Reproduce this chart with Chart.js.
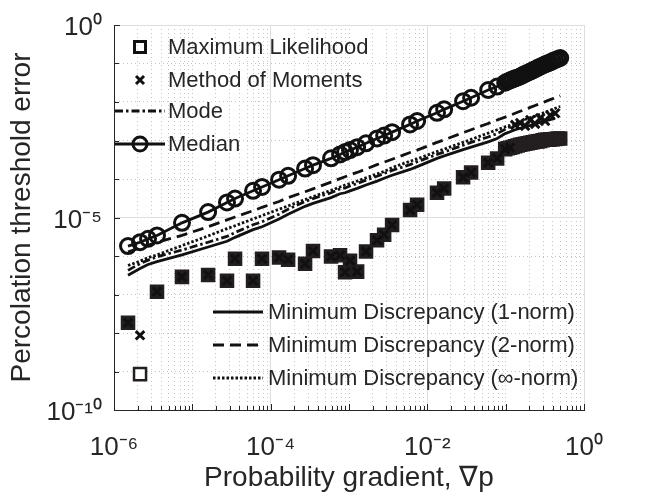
<!DOCTYPE html>
<html>
<head>
<meta charset="utf-8">
<script src="https://cdn.jsdelivr.net/npm/chart.js@4/dist/chart.umd.min.js"></script>
<style>
html,body{margin:0;padding:0;background:#fff;}
#wrap{width:657px;height:502px;position:relative;}
</style>
</head>
<body>
<div id="wrap"><canvas id="c" width="657" height="502"></canvas></div>
<script>
// ---------- data ----------
const gradient = [1.51e-6, 2.15e-6, 2.72e-6, 3.54e-6, 7.38e-6, 1.59e-5, 2.77e-5, 3.51e-5, 5.96e-5, 7.76e-5,
  1.28e-4, 1.67e-4, 2.75e-4, 3.47e-4, 5.90e-4, 7.69e-4, 8.91e-4, 1.03e-3, 1.27e-3, 1.65e-3,
  2.28e-3, 2.81e-3, 3.55e-3, 6.02e-3, 7.41e-3, 1.33e-2, 1.64e-2, 2.86e-2, 3.62e-2, 5.98e-2,
  7.78e-2, 0.0986, 0.106, 0.114, 0.1229, 0.132, 0.1423, 0.153, 0.1649, 0.177,
  0.191, 0.206, 0.2213, 0.238, 0.2563, 0.276, 0.2969, 0.319, 0.3439, 0.370,
  0.3984, 0.429, 0.4614, 0.497];

const mlErr = [1.85e-8, 8.55e-10, null, 1.18e-7, 2.87e-7, 3.23e-7, 2.28e-7, 8.49e-7, 2.28e-7, 8.49e-7,
  9.16e-7, 8.02e-7, 6.25e-7, 1.35e-6, 9.71e-7, 1.04e-6, 3.78e-7, 7.57e-7, 3.93e-7, 1.30e-6,
  2.56e-6, 3.56e-6, 6.37e-6, 1.57e-5, 2.15e-5, 4.39e-5, 5.64e-5, 1.11e-4, 1.48e-4, 2.65e-4,
  3.40e-4, 5.97e-4, 6.25e-4, 6.51e-4, 6.82e-4, 7.10e-4, 7.43e-4, 7.75e-4, 7.98e-4, 8.21e-4,
  8.45e-4, 8.70e-4, 8.95e-4, 9.22e-4, 9.49e-4, 9.77e-4, 1.01e-3, 1.04e-3, 1.05e-3, 1.07e-3,
  1.08e-3, 1.10e-3, 1.12e-3, 1.13e-3];

const momErr = [1.85e-8, 8.71e-9, null, 1.18e-7, 2.87e-7, 3.23e-7, 2.28e-7, 8.49e-7, 2.28e-7, 8.49e-7,
  9.16e-7, 8.02e-7, 6.25e-7, 1.35e-6, 9.71e-7, 1.04e-6, 3.78e-7, 7.57e-7, 3.93e-7, 1.30e-6,
  2.56e-6, 3.56e-6, 6.37e-6, 1.57e-5, 2.15e-5, 4.39e-5, 5.64e-5, 1.11e-4, 1.48e-4, 2.65e-4,
  3.40e-4, 5.97e-4, null, 6.51e-4, null, 2.55e-3, null, 2.86e-3, null, 2.40e-3,
  null, 3.40e-3, null, 2.70e-3, null, 3.82e-3, null, 3.21e-3, null, 4.54e-3,
  null, 5.10e-3, null, null];

const modeErr = [4.24e-7, 6.37e-7, 7.8e-7, 9.55e-7, 1.43e-6, 2.28e-6, 3.23e-6, 4.07e-6, 6.47e-6, 7.71e-6,
  1.22e-5, 1.64e-5, 2.60e-5, 3.10e-5, 4.39e-5, 5.54e-5, 5.86e-5, 6.59e-5, 7.62e-5, 9.33e-5,
  1.18e-4, 1.40e-4, 1.67e-4, 2.36e-4, 2.81e-4, 4.34e-4, 5.01e-4, 7.53e-4, 8.95e-4, 1.23e-3,
  1.51e-3, 1.96e-3, null, 2.27e-3, null, 2.55e-3, null, 2.86e-3, null, 2.40e-3,
  null, 3.40e-3, null, 2.70e-3, null, 3.82e-3, null, 3.21e-3, null, 4.54e-3,
  null, 5.10e-3, null, null];

const medianErr = [1.81e-6, 2.28e-6, 2.79e-6, 3.42e-6, 7.27e-6, 1.38e-5, 2.46e-5, 3.10e-5, 4.93e-5, 6.21e-5,
  9.59e-5, 1.21e-4, 1.87e-4, 2.29e-4, 3.44e-4, 4.34e-4, 5.01e-4, 5.63e-4, 6.70e-4, 8.45e-4,
  1.13e-3, 1.34e-3, 1.65e-3, 2.62e-3, 3.21e-3, 5.25e-3, 6.44e-3, 1.05e-2, 1.29e-2, 2.05e-2,
  2.52e-2, 3.17e-2, 3.42e-2, 3.66e-2, 3.88e-2, 4.12e-2, 4.36e-2, 4.63e-2, 4.99e-2, 5.35e-2,
  5.77e-2, 6.18e-2, 6.67e-2, 7.14e-2, 7.71e-2, 8.26e-2, 8.91e-2, 9.55e-2, 0.101, 0.107,
  0.116, 0.124, 0.131, 0.139];

const md1Err = [3.17e-7, 4.76e-7, 6.0e-7, 7.15e-7, 1.07e-6, 1.71e-6, 2.42e-6, 3.05e-6, 4.84e-6, 5.76e-6,
  9.17e-6, 1.22e-5, 1.95e-5, 2.32e-5, 3.28e-5, 4.14e-5, 4.39e-5, 4.93e-5, 5.70e-5, 6.98e-5,
  8.81e-5, 1.05e-4, 1.25e-4, 1.77e-4, 2.10e-4, 3.44e-4, 3.97e-4, 5.79e-4, 6.70e-4, 9.22e-4,
  1.13e-3, 1.51e-3, null, 1.69e-3, null, 1.90e-3, null, 2.08e-3, null, 2.27e-3,
  null, 2.47e-3, null, 2.70e-3, null, 2.94e-3, null, 3.21e-3, null, 3.50e-3,
  null, 3.82e-3, null, null];

const md2Err = [1.28e-6, 1.61e-6, 1.91e-6, 2.28e-6, 3.42e-6, 5.76e-6, 8.65e-6, 1.03e-5, 1.50e-5, 1.84e-5,
  2.60e-5, 3.28e-5, 4.65e-5, 5.54e-5, 8.30e-5, 1.02e-4, 1.14e-4, 1.28e-4, 1.48e-4, 1.82e-4,
  2.36e-4, 2.73e-4, 3.25e-4, 4.87e-4, 5.63e-4, 8.95e-4, 1.04e-3, 1.60e-3, 1.90e-3, 2.77e-3,
  3.40e-3, 4.05e-3, null, 4.54e-3, null, 5.10e-3, null, 5.73e-3, null, 6.44e-3,
  null, 7.23e-3, null, 8.11e-3, null, 9.12e-3, null, 1.02e-2, null, 1.15e-2,
  null, 1.29e-2, null, 1.45e-2];

const mdInfErr = [5.66e-7, 7.35e-7, 9.0e-7, 1.07e-6, 1.86e-6, 3.32e-6, 5.13e-6, 6.11e-6, 9.17e-6, 1.12e-5,
  1.64e-5, 2.00e-5, 2.92e-5, 3.48e-5, 5.07e-5, 6.21e-5, 6.98e-5, 7.62e-5, 8.81e-5, 1.08e-4,
  1.36e-4, 1.57e-4, 1.98e-4, 2.89e-4, 3.34e-4, 5.16e-4, 5.97e-4, 8.95e-4, 1.07e-3, 1.55e-3,
  1.90e-3, 2.27e-3, null, 2.47e-3, null, 2.77e-3, null, 3.12e-3, null, 3.50e-3,
  null, 3.93e-3, null, 4.29e-3, null, 4.82e-3, null, 5.41e-3, null, 6.07e-3,
  null, 6.82e-3, null, 7.66e-3];

const xTickExponents = [-6, -4, -2, 0];
const xTickLabels = ['10⁻⁶', '10⁻⁴', '10⁻²', '10⁰'];
const yTickExponents = [0, -5, -10];
const yTickLabels = ['10⁰', '10⁻⁵', '10⁻¹⁰'];

const xTitle = 'Probability gradient, ∇p';
const yTitle = 'Percolation threshold error';

const legendTopLabels = ['Maximum Likelihood', 'Method of Moments', 'Mode', 'Median'];
const legendBottomLabels = ['Minimum Discrepancy (1-norm)', 'Minimum Discrepancy (2-norm)', 'Minimum Discrepancy (∞-norm)'];

// ---------- styling ----------
const FONT = "'Liberation Sans', Arial, Helvetica, sans-serif";
const AXIS = '#262626';
const INK = '#111111';
const MARK = '#231f20';
const DASH_MODE = [8, 3, 2.5, 3];
const DASH_MD2 = [11, 6];
const DASH_INF = [2.5, 2];

const pts = (arr) => gradient.map((x, i) => ({ x: x, y: arr[i] }));
const expOf = (v) => Math.round(Math.log10(v));
const isPow10 = (v) => Math.abs(v / Math.pow(10, expOf(v)) - 1) < 1e-6;
const isXMajor = (v) => isPow10(v) && xTickExponents.includes(expOf(v));
const isYMajor = (v) => isPow10(v) && yTickExponents.includes(expOf(v));

function buildXTicks(scale) {
  const t = [];
  for (let d = -6; d <= 0; d++) {
    for (let m = 1; m <= 9; m++) {
      const v = Number((m * Math.pow(10, d)).toPrecision(4));
      if (v <= 1) t.push({ value: v, major: isXMajor(v) });
    }
  }
  scale.ticks = t;
}
function buildYTicks(scale) {
  const t = [];
  for (let d = -10; d <= 0; d++) {
    const v = Number(Math.pow(10, d).toPrecision(4));
    t.push({ value: v, major: isYMajor(v) });
  }
  scale.ticks = t;
}

const decor = {
  id: 'decor',
  beforeDatasetsDraw(chart) {
    const { ctx, chartArea: a, scales: { x, y } } = chart;
    ctx.save();
    ctx.strokeStyle = AXIS;
    ctx.lineWidth = 1;
    x.ticks.forEach(t => {
      const px = Math.round(x.getPixelForValue(t.value)) + 0.5;
      const len = isPow10(t.value) ? 6 : 4;
      ctx.beginPath(); ctx.moveTo(px, a.bottom); ctx.lineTo(px, a.bottom - len); ctx.stroke();
    });
    y.ticks.forEach(t => {
      const py = Math.round(y.getPixelForValue(t.value)) + 0.5;
      const len = isYMajor(t.value) ? 6 : 5;
      ctx.beginPath(); ctx.moveTo(a.left, py); ctx.lineTo(a.left + len, py); ctx.stroke();
    });
    ctx.restore();
  },
  afterDraw(chart) {
    const ctx = chart.ctx;
    ctx.save();
    ctx.font = '22px ' + FONT;
    ctx.fillStyle = AXIS;
    ctx.textAlign = 'left';
    ctx.textBaseline = 'middle';
    // upper-left legend
    const topY = [47, 80, 111, 144];
    const sx = 140, tx = 168, l0 = 115, l1 = 165;
    ctx.strokeStyle = INK;
    ctx.lineWidth = 3;
    ctx.strokeRect(sx - 5.5, topY[0] - 5.5, 11, 11);
    ctx.beginPath();
    ctx.moveTo(sx - 4, topY[1] - 4); ctx.lineTo(sx + 4, topY[1] + 4);
    ctx.moveTo(sx + 4, topY[1] - 4); ctx.lineTo(sx - 4, topY[1] + 4);
    ctx.stroke();
    ctx.lineWidth = 2.8;
    ctx.setLineDash(DASH_MODE);
    ctx.beginPath(); ctx.moveTo(l0, topY[2]); ctx.lineTo(l1, topY[2]); ctx.stroke();
    ctx.setLineDash([]);
    ctx.beginPath(); ctx.moveTo(l0, topY[3]); ctx.lineTo(l1, topY[3]); ctx.stroke();
    ctx.lineWidth = 3;
    ctx.beginPath(); ctx.arc(sx, topY[3], 7, 0, Math.PI * 2); ctx.stroke();
    legendTopLabels.forEach((s, i) => ctx.fillText(s, tx, topY[i] + 1));

    // lower-right legend
    const botY = [312, 345, 378];
    const b0 = 213, b1 = 263, btx = 268;
    const dashes = [[], DASH_MD2, DASH_INF];
    ctx.lineWidth = 2.8;
    botY.forEach((yy, i) => {
      ctx.setLineDash(dashes[i]);
      ctx.beginPath(); ctx.moveTo(b0, yy); ctx.lineTo(b1, yy); ctx.stroke();
    });
    ctx.setLineDash([]);
    legendBottomLabels.forEach((s, i) => ctx.fillText(s, btx, botY[i] + 1));
    ctx.restore();
  }
};

Chart.defaults.font.family = FONT;

const lineDefaults = { borderColor: INK, borderWidth: 2.8, pointRadius: 0, fill: false, tension: 0, spanGaps: true };

new Chart(document.getElementById('c'), {
  type: 'line',
  data: {
    datasets: [
      { label: legendTopLabels[1], data: pts(momErr), showLine: false, pointStyle: 'crossRot',
        pointRadius: 6, borderWidth: 3, borderColor: INK, backgroundColor: INK },
      { label: legendTopLabels[0], data: pts(mlErr), showLine: false, pointStyle: 'rect',
        pointRadius: 8.5, borderWidth: 2.5, borderColor: MARK,
        pointBackgroundColor: (c) => (momErr[c.dataIndex] !== mlErr[c.dataIndex] && gradient[c.dataIndex] < 1e-4) ? '#ffffff' : MARK },
      Object.assign({}, lineDefaults, { label: legendTopLabels[3], data: pts(medianErr),
        pointStyle: 'circle', pointRadius: 7.5, pointBorderWidth: 3, pointBorderColor: INK,
        pointBackgroundColor: 'rgba(0,0,0,0)' }),
      Object.assign({}, lineDefaults, { label: legendTopLabels[2], data: pts(modeErr), borderDash: DASH_MODE }),
      Object.assign({}, lineDefaults, { label: legendBottomLabels[0], data: pts(md1Err) }),
      Object.assign({}, lineDefaults, { label: legendBottomLabels[1], data: pts(md2Err), borderDash: DASH_MD2 }),
      Object.assign({}, lineDefaults, { label: legendBottomLabels[2], data: pts(mdInfErr), borderDash: DASH_INF })
    ]
  },
  options: {
    responsive: false,
    animation: false,
    devicePixelRatio: 1,
    events: [],
    layout: { padding: { top: 13, right: 73, left: 0, bottom: 0 } },
    plugins: { legend: { display: false }, tooltip: { enabled: false }, title: { display: false } },
    scales: {
      x: {
        type: 'logarithmic', min: 1e-6, max: 1,
        afterBuildTicks: buildXTicks,
        afterFit: (s) => { s.height = 92; },
        ticks: {
          autoSkip: false, maxRotation: 0, minRotation: 0, padding: 25, color: AXIS,
          font: { size: 26, lineHeight: 1 },
          callback: (v) => { const k = xTickExponents.indexOf(expOf(v)); return (isPow10(v) && k >= 0) ? xTickLabels[k] : ''; }
        },
        grid: {
          drawTicks: false, lineWidth: 1,
          color: (c) => !c.tick ? 'rgba(0,0,0,0)' : (isXMajor(c.tick.value) ? '#dedede' : '#c4c4c4')
        },
        border: { display: true, color: AXIS, width: 1,
          dash: (c) => (c.tick && !isXMajor(c.tick.value)) ? [1, 3] : [] },
        title: { display: true, text: xTitle, color: AXIS, font: { size: 28 }, padding: { top: 0, bottom: 7 } }
      },
      y: {
        type: 'logarithmic', min: 1e-10, max: 1,
        afterBuildTicks: buildYTicks,
        afterFit: (s) => { s.width = 114; },
        ticks: {
          autoSkip: false, padding: 12, color: AXIS, labelOffset: 3,
          font: { size: 26, lineHeight: 1 },
          callback: (v) => { const k = yTickExponents.indexOf(expOf(v)); return (isPow10(v) && k >= 0) ? yTickLabels[k] : ''; }
        },
        grid: {
          drawTicks: false, lineWidth: 1,
          color: (c) => !c.tick ? 'rgba(0,0,0,0)' : (isYMajor(c.tick.value) ? '#dedede' : '#c4c4c4')
        },
        border: { display: true, color: AXIS, width: 1,
          dash: (c) => (c.tick && !isYMajor(c.tick.value)) ? [1, 3] : [] },
        title: { display: true, text: yTitle, color: AXIS, font: { size: 28 }, padding: { top: 5, bottom: 0 } }
      }
    }
  },
  plugins: [decor]
});
</script>
</body>
</html>
